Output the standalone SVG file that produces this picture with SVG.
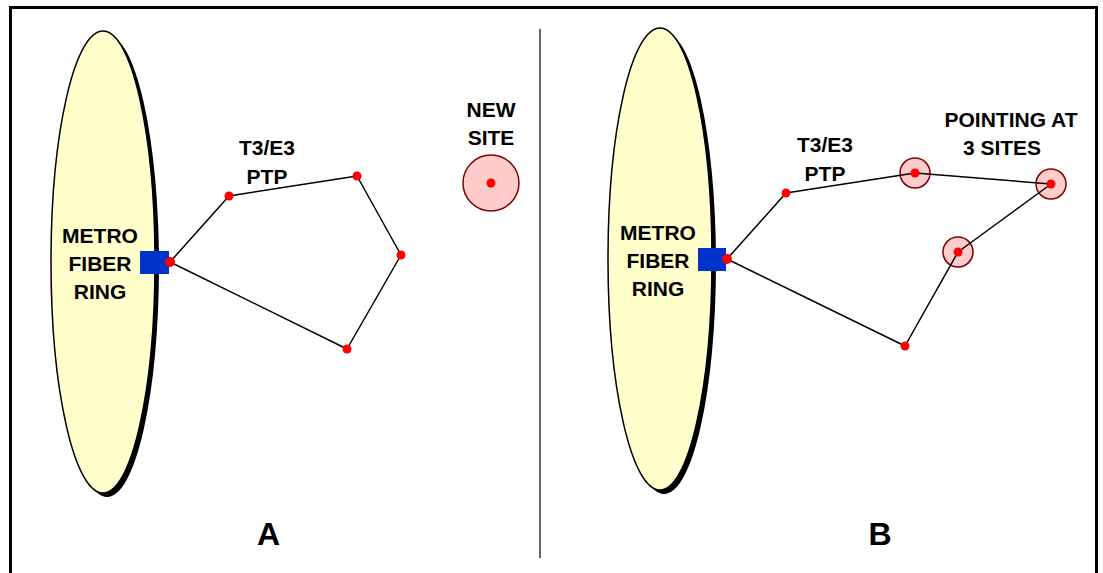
<svg xmlns="http://www.w3.org/2000/svg" width="1103" height="573" viewBox="0 0 1103 573">
  <style>
    .lbl { font-family: "Liberation Sans", Arial, sans-serif; font-weight: bold; font-size: 21px; fill: #000; text-anchor: middle; }
    .big { font-size: 32px; }
    .ring { fill: #ffffcc; stroke: #000; stroke-width: 1.5; }
    .shadow { fill: #000; }
    .hub { fill: #0033cc; }
    .dot { fill: #ff0000; }
    .site { fill: #ffcccc; stroke: #800000; stroke-width: 1.5; }
    .link { fill: none; stroke: #000; stroke-width: 1.5; stroke-linejoin: round; }
  </style>

  <!-- frame and divider -->
  <rect x="10.5" y="7.5" width="1086" height="620" fill="#fff" stroke="#000" stroke-width="3"/>
  <line x1="540" y1="29" x2="540" y2="558" stroke="#333" stroke-width="1.5"/>

  <!-- panel A -->
  <g id="ring-a">
    <ellipse class="shadow" cx="107" cy="266" rx="52" ry="231"/>
    <ellipse class="ring" cx="103" cy="262" rx="52" ry="231"/>
    <text class="lbl" x="100" y="243">METRO</text>
    <text class="lbl" x="100" y="271">FIBER</text>
    <text class="lbl" x="100" y="299">RING</text>
  </g>
  <g id="hub-a"><rect class="hub" x="140" y="251" width="29" height="23"/></g>

  <g id="links-a">
    <polyline class="link" points="170,262 229,196 357,176 401,255 347,349 170,262"/>
  </g>

  <g id="nodes-a">
    <circle class="dot" cx="170" cy="262" r="5"/>
    <circle class="dot" cx="229" cy="196" r="4.5"/>
    <circle class="dot" cx="357" cy="176" r="4.5"/>
    <circle class="dot" cx="401" cy="255" r="4.5"/>
    <circle class="dot" cx="347" cy="349" r="4.5"/>
  </g>
  <g id="label-ptp-a">
    <text class="lbl" x="267" y="155">T3/E3</text>
    <text class="lbl" x="267" y="184">PTP</text>
  </g>
  <g id="new-site">
    <text class="lbl" x="491" y="117">NEW</text>
    <text class="lbl" x="491" y="145">SITE</text>
    <circle class="site" cx="491" cy="183" r="28"/>
    <circle class="dot" cx="491" cy="183" r="4.5"/>
  </g>
  <text id="title-a" class="lbl big" x="268.5" y="545">A</text>

  <!-- panel B -->
  <g id="ring-b">
    <ellipse class="shadow" cx="664" cy="263" rx="52" ry="231"/>
    <ellipse class="ring" cx="660" cy="259" rx="52" ry="231"/>
    <text class="lbl" x="658" y="240">METRO</text>
    <text class="lbl" x="658" y="268">FIBER</text>
    <text class="lbl" x="658" y="296">RING</text>
  </g>
  <g id="hub-b"><rect class="hub" x="698" y="248" width="28" height="23"/></g>

  <!-- aimed sites: halo circles sit under the links -->
  <g id="sites-b">
    <circle class="site" cx="915" cy="173" r="15"/>
    <circle class="site" cx="1051" cy="184" r="15"/>
    <circle class="site" cx="958" cy="252" r="15"/>
  </g>

  <g id="links-b">
    <polyline class="link" points="727,259 786,193 915,173 1051,184 958,252 905,346 727,259"/>
  </g>

  <g id="nodes-b">
    <circle class="dot" cx="727" cy="259" r="5"/>
    <circle class="dot" cx="786" cy="193" r="4.5"/>
    <circle class="dot" cx="915" cy="173" r="4.5"/>
    <circle class="dot" cx="1051" cy="184" r="4.5"/>
    <circle class="dot" cx="958" cy="252" r="4.5"/>
    <circle class="dot" cx="905" cy="346" r="4.5"/>
  </g>
  <g id="label-ptp-b">
    <text class="lbl" x="825" y="152">T3/E3</text>
    <text class="lbl" x="825" y="181">PTP</text>
  </g>
  <g id="label-pointing">
    <text class="lbl" x="1011" y="127">POINTING AT</text>
    <text class="lbl" x="1002" y="155">3 SITES</text>
  </g>
  <text id="title-b" class="lbl big" x="880" y="545">B</text>
</svg>
